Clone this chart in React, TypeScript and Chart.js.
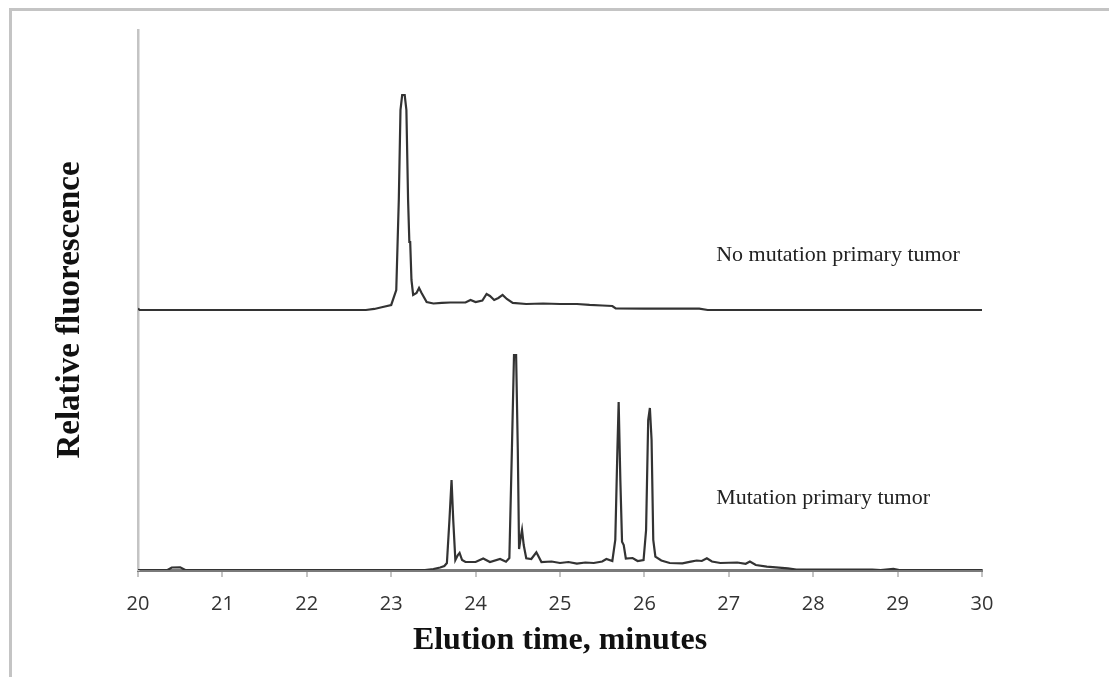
import React, { useEffect, useRef } from "react";
import { Chart, registerables } from "chart.js";

Chart.register(...registerables);

// ---- data ----
const X_MIN = 20;
const X_MAX = 30;
const X_STEP = 1;

const TOP_LABEL = "No mutation primary tumor";
const BOTTOM_LABEL = "Mutation primary tumor";
const X_TITLE = "Elution time, minutes";
const Y_TITLE = "Relative fluorescence";

// upper trace (no mutation), intensities above its own baseline
const TOP_TIMES = [
  20.0, 20.02, 22.7, 22.8, 22.9, 23.0, 23.06, 23.09, 23.11, 23.13, 23.16, 23.18,
  23.2, 23.215, 23.225, 23.24, 23.26, 23.3, 23.33, 23.36, 23.42, 23.5, 23.6, 23.7,
  23.8, 23.88, 23.94, 24.0, 24.08, 24.13, 24.17, 24.22, 24.27, 24.32, 24.37, 24.44,
  24.6, 24.8, 25.0, 25.2, 25.35, 25.5, 25.62, 25.66, 26.0, 26.65, 26.75, 30.0,
];
const TOP_VALUES = [
  0.28, 0, 0, 0.19, 0.56, 0.93, 3.7, 20.37, 37.04, 39.81, 39.81, 37.04,
  20.37, 12.59, 12.59, 5.56, 2.78, 3.15, 4.07, 3.15, 1.48, 1.2, 1.3, 1.39,
  1.39, 1.39, 1.85, 1.48, 1.76, 2.96, 2.59, 1.85, 2.22, 2.78, 2.04, 1.3,
  1.11, 1.2, 1.11, 1.11, 0.93, 0.83, 0.74, 0.28, 0.24, 0.24, 0, 0,
];
const TOP_OFFSET = 48.15;

// lower trace (mutation)
const BOTTOM_TIMES = [
  20.0, 20.35, 20.4, 20.5, 20.56, 23.4, 23.5, 23.58, 23.63, 23.66, 23.69, 23.715,
  23.735, 23.76, 23.79, 23.81, 23.84, 23.88, 24.0, 24.09, 24.17, 24.29, 24.36, 24.4,
  24.43, 24.455, 24.48, 24.5, 24.515, 24.53, 24.55, 24.57, 24.6, 24.66, 24.72, 24.78,
  24.9, 25.0, 25.1, 25.2, 25.3, 25.4, 25.5, 25.55, 25.62, 25.655, 25.68, 25.695,
  25.715, 25.735, 25.755, 25.78, 25.86, 25.92, 25.99, 26.02, 26.045, 26.065, 26.085, 26.105,
  26.13, 26.2, 26.3, 26.45, 26.55, 26.62, 26.68, 26.74, 26.8, 26.9, 27.1, 27.2,
  27.25, 27.32, 27.45, 27.7, 27.8, 28.7, 28.8, 28.95, 29.02, 30.0,
];
const BOTTOM_VALUES = [
  0, 0, 0.46, 0.5, 0, 0, 0.19, 0.46, 0.74, 1.3, 9.26, 16.67,
  9.26, 1.85, 2.78, 3.15, 1.85, 1.48, 1.48, 2.13, 1.48, 2.04, 1.54, 2.22,
  22.22, 39.81, 39.81, 22.22, 3.89, 5.56, 7.41, 4.63, 2.17, 2.04, 3.28, 1.48,
  1.57, 1.3, 1.48, 1.2, 1.39, 1.3, 1.57, 2.04, 1.67, 5.56, 22.22, 31.11,
  16.67, 5.24, 4.63, 2.13, 2.22, 1.67, 1.85, 7.41, 27.78, 30.0, 24.07, 5.56,
  2.46, 1.76, 1.3, 1.24, 1.54, 1.76, 1.67, 2.17, 1.57, 1.3, 1.39, 1.15,
  1.57, 0.93, 0.61, 0.31, 0.09, 0.09, 0, 0.19, 0, 0,
];

const LABEL_TIME = 26.85;
const TOP_LABEL_LEVEL = 57.13;
const BOTTOM_LABEL_LEVEL = 12.22;

export default function App() {
  const canvasRef = useRef<HTMLCanvasElement>(null);

  useEffect(() => {
    document.body.style.margin = "0";
    const canvas = canvasRef.current;
    if (!canvas) return;

    const textPlugin = {
      id: "textPlugin",
      afterDraw(chart: any) {
        const { ctx, chartArea, scales } = chart;
        const xs = scales.x;
        const ys = scales.y;
        ctx.save();
        ctx.fillStyle = "#111";
        ctx.font = "bold 32px 'Liberation Serif', serif";
        ctx.textAlign = "center";
        ctx.textBaseline = "middle";
        ctx.fillText(X_TITLE, (chartArea.left + chartArea.right) / 2, 641);
        ctx.translate(70, 310);
        ctx.rotate(-Math.PI / 2);
        ctx.font = "bold 33px 'Liberation Serif', serif";
        ctx.fillText(Y_TITLE, 0, 0);
        ctx.restore();

        ctx.save();
        ctx.fillStyle = "#222";
        ctx.font = "22px 'Liberation Serif', serif";
        ctx.textAlign = "left";
        ctx.textBaseline = "alphabetic";
        ctx.fillText(TOP_LABEL, xs.getPixelForValue(LABEL_TIME), ys.getPixelForValue(TOP_LABEL_LEVEL));
        ctx.fillText(BOTTOM_LABEL, xs.getPixelForValue(LABEL_TIME), ys.getPixelForValue(BOTTOM_LABEL_LEVEL));
        ctx.restore();
      },
    };

    const chart = new Chart(canvas, {
      type: "line",
      data: {
        datasets: [
          {
            label: TOP_LABEL,
            data: TOP_TIMES.map((t, i) => ({ x: t, y: TOP_VALUES[i] + TOP_OFFSET })),
            borderColor: "#333333",
            borderWidth: 2.2,
            pointRadius: 0,
            tension: 0,
            fill: false,
          },
          {
            label: BOTTOM_LABEL,
            data: BOTTOM_TIMES.map((t, i) => ({ x: t, y: BOTTOM_VALUES[i] })),
            borderColor: "#333333",
            borderWidth: 2.2,
            pointRadius: 0,
            tension: 0,
            fill: false,
          },
        ],
      },
      options: {
        responsive: false,
        animation: false,
        devicePixelRatio: 1,
        layout: { padding: { left: 138, right: 127, top: 30, bottom: 0 } },
        plugins: {
          legend: { display: false },
          tooltip: { enabled: false },
          title: { display: false },
        },
        scales: {
          x: {
            type: "linear",
            min: X_MIN,
            max: X_MAX,
            afterFit: (s: any) => {
              s.height = 107;
            },
            ticks: {
              stepSize: X_STEP,
              padding: 15,
              color: "#333",
              font: { family: "'Open Sans', sans-serif", size: 20 },
            },
            grid: {
              display: true,
              drawOnChartArea: false,
              drawTicks: true,
              tickLength: 7,
              color: "#c4c4c4",
              lineWidth: 2,
            },
            border: { display: true, color: "#7a7a7a", width: 3 },
          },
          y: {
            type: "linear",
            min: 0,
            max: 100,
            afterFit: (s: any) => {
              s.width = 0;
            },
            ticks: { display: false },
            grid: { display: false, drawTicks: false },
            border: { display: true, color: "#c4c4c4", width: 2.5 },
          },
        },
      },
      plugins: [textPlugin],
    });

    return () => chart.destroy();
  }, []);

  return (
    <div style={{ position: "relative", width: 1109, height: 677, background: "#fff" }}>
      <div
        style={{
          position: "absolute",
          left: 9,
          top: 8,
          width: 1100,
          height: 669,
          borderTop: "3px solid #c4c4c4",
          borderLeft: "3px solid #c4c4c4",
          boxSizing: "border-box",
          pointerEvents: "none",
        }}
      />
      <canvas
        ref={canvasRef}
        width={1109}
        height={677}
        style={{ position: "absolute", left: 0, top: 0, width: 1109, height: 677 }}
      />
    </div>
  );
}
